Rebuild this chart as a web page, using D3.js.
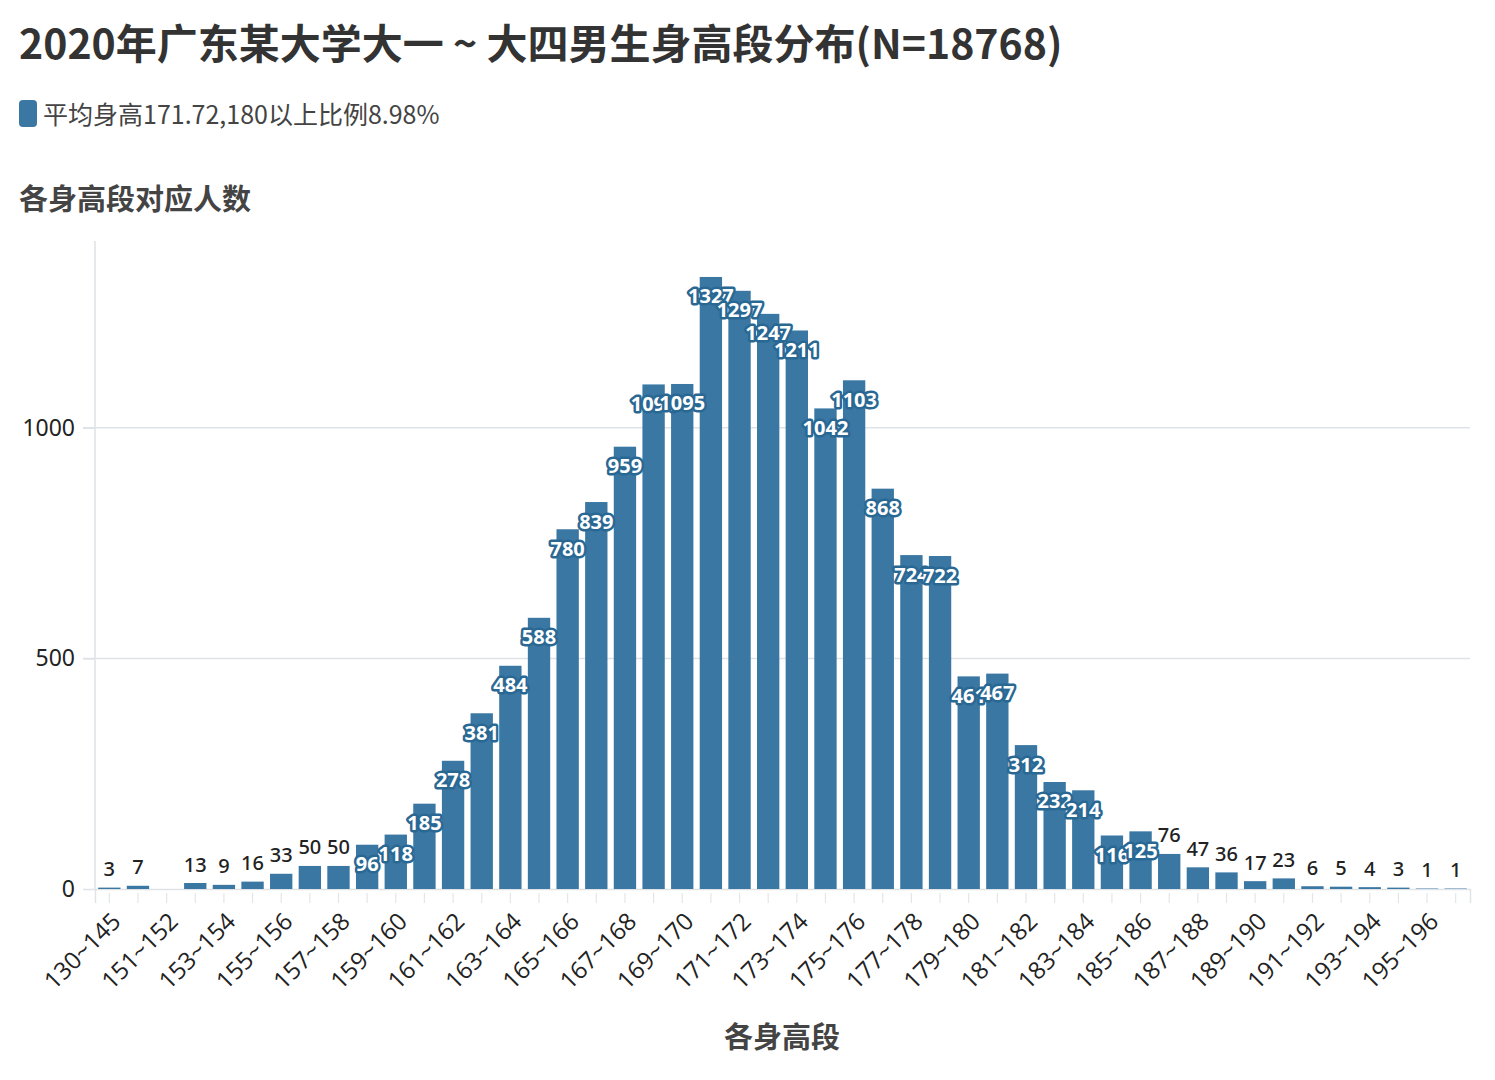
<!DOCTYPE html>
<html>
<head>
<meta charset="utf-8">
<script src="https://cdn.jsdelivr.net/npm/d3@7"></script>
<style>
  body { margin: 0; background: #fff; font-family: "Noto Sans", "Noto Sans CJK SC", sans-serif; }
</style>
</head>
<body>
<div id="svg"></div>
<script>
// height bands and head counts
var categories = ["130~145", "145~151", "151~152", "152~153", "153~154", "154~155", "155~156", "156~157",
    "157~158", "158~159", "159~160", "160~161", "161~162", "162~163", "163~164", "164~165", "165~166",
    "166~167", "167~168", "168~169", "169~170", "170~171", "171~172", "172~173", "173~174", "174~175",
    "175~176", "176~177", "177~178", "178~179", "179~180", "180~181", "181~182", "182~183", "183~184",
    "184~185", "185~186", "186~187", "187~188", "188~189", "189~190", "190~191", "191~192", "192~193",
    "193~194", "194~195", "195~196", "196~197"];
var counts = [3, 7, 0, 13, 9, 16, 33, 50, 50, 96, 118, 185, 278, 381, 484, 588, 780, 839, 959, 1094, 1095,
    1327, 1297, 1247, 1211, 1042, 1103, 868, 724, 722, 461, 467, 312, 232, 214, 116, 125, 76, 47, 36, 17, 23,
    6, 5, 4, 3, 1, 1];
var yTicks = [0, 500, 1000];

var width = 1495, height = 1080;
var cjk = "'Noto Sans CJK SC', 'Noto Sans', sans-serif";
var barColor = "#3a77a3";

var svg = d3.select("#svg").append("svg")
    .attr("width", width)
    .attr("height", height);

var data = categories.map(function(c, i) { return { cat: c, v: counts[i] }; });

var margin = { left: 95, right: 1470, top: 241, bottom: 889 };

var x = d3.scaleBand()
    .domain(categories)
    .range([margin.left, margin.right])
    .paddingInner(0.22)
    .paddingOuter(0.11);

var y = d3.scaleLinear()
    .domain([0, 1405])
    .range([margin.bottom, margin.top]);

// title + legend
svg.append("text")
    .attr("x", 19).attr("y", 59)
    .attr("font-family", cjk).attr("font-weight", 700).attr("font-size", 41)
    .attr("fill", "#333")
    .text("2020年广东某大学大一 ~ 大四男生身高段分布(N=18768)");

svg.append("rect")
    .attr("x", 19).attr("y", 100).attr("width", 18).attr("height", 27)
    .attr("rx", 4).attr("fill", barColor);

svg.append("text")
    .attr("x", 43).attr("y", 124)
    .attr("font-family", cjk).attr("font-size", 25)
    .attr("fill", "#444")
    .text("平均身高171.72,180以上比例8.98%");

svg.append("text")
    .attr("x", 19).attr("y", 210)
    .attr("font-family", cjk).attr("font-weight", 700).attr("font-size", 29)
    .attr("fill", "#444")
    .text("各身高段对应人数");

// gridlines
svg.append("g").selectAll("line")
    .data(yTicks.filter(function(d) { return d > 0; }))
    .enter().append("line")
    .attr("x1", margin.left - 12).attr("x2", margin.right)
    .attr("y1", function(d) { return y(d); })
    .attr("y2", function(d) { return y(d); })
    .attr("stroke", "#dfe3e7").attr("stroke-width", 1.5);

// y axis
var yAxis = svg.append("g")
    .attr("transform", "translate(" + margin.left + ",0)")
    .call(d3.axisLeft(y).tickValues(yTicks).tickFormat(d3.format("d")).tickSize(12).tickPadding(8));
yAxis.select(".domain").remove();
yAxis.selectAll(".tick line").attr("stroke", "#dfe3e7").attr("stroke-width", 1.5);
yAxis.selectAll(".tick text")
    .attr("font-family", "'Noto Sans', sans-serif").attr("font-size", 23).attr("fill", "#222");

svg.append("line")
    .attr("x1", margin.left).attr("x2", margin.left)
    .attr("y1", margin.top).attr("y2", margin.bottom + 1)
    .attr("stroke", "#dfe3e7").attr("stroke-width", 1.5);

// x axis
var xAxis = svg.append("g")
    .attr("transform", "translate(0," + margin.bottom + ")")
    .call(d3.axisBottom(x).tickSizeOuter(0).tickSize(14)
        .tickFormat(function(d, i) { return i % 2 === 0 ? d : ""; }));
xAxis.select(".domain").attr("stroke", "#dfe3e7").attr("stroke-width", 1.5);
xAxis.selectAll(".tick line").attr("stroke", "#e3e6e9").attr("stroke-width", 1.2).attr("y1", 4);
xAxis.selectAll(".tick text")
    .attr("font-family", "'Open Sans', 'Noto Sans', sans-serif").attr("font-size", 24).attr("fill", "#222")
    .attr("text-anchor", "end")
    .attr("y", 0).attr("dy", "0.35em")
    .attr("transform", "translate(7,28) rotate(-45)");

svg.append("text")
    .attr("x", 782).attr("y", 1048)
    .attr("text-anchor", "middle")
    .attr("font-family", cjk).attr("font-weight", 700).attr("font-size", 29)
    .attr("fill", "#444")
    .text("各身高段");

// bars
svg.append("g").selectAll("rect")
    .data(data)
    .enter().append("rect")
    .attr("x", function(d) { return x(d.cat); })
    .attr("width", x.bandwidth())
    .attr("y", function(d) { return y(d.v); })
    .attr("height", function(d) { return y(0) - y(d.v); })
    .attr("fill", barColor);

// value labels
var labels = svg.append("g").selectAll("text")
    .data(data.filter(function(d) { return d.v > 0; }))
    .enter().append("text")
    .attr("x", function(d) { return x(d.cat) + x.bandwidth() / 2; })
    .attr("text-anchor", "middle")
    .attr("dominant-baseline", "central")
    .attr("font-family", "'Noto Sans', sans-serif")
    .text(function(d) { return d.v; });

labels.each(function(d) {
    var t = d3.select(this);
    var h = y(0) - y(d.v);
    if (h < 40) {
        t.attr("y", y(d.v) - 19).attr("fill", "#222").attr("font-weight", 500).attr("font-size", 20);
    } else {
        t.attr("y", y(d.v) + 19).attr("fill", "#fff").attr("font-weight", 700).attr("font-size", 20)
            .attr("stroke", "#2a6894").attr("stroke-width", 5)
            .attr("stroke-linejoin", "round")
            .attr("paint-order", "stroke");
    }
});
</script>
</body>
</html>
